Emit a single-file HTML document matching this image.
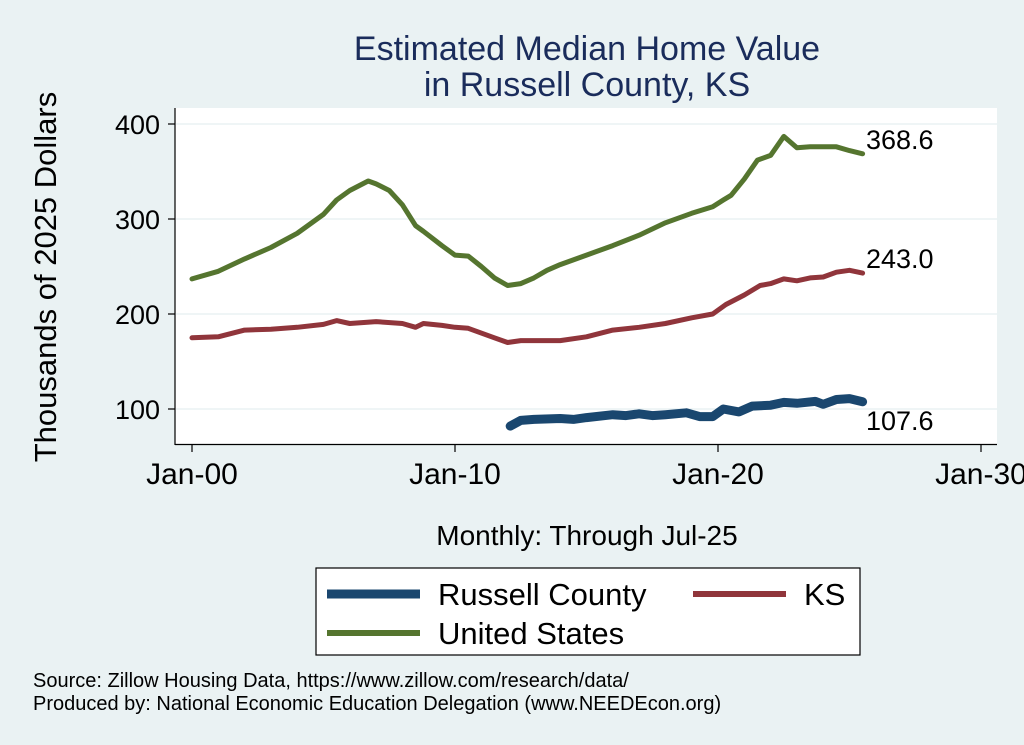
<!DOCTYPE html>
<html><head><meta charset="utf-8"><style>
body{margin:0;background:#eaf2f3;}
svg{display:block;font-family:"Liberation Sans",sans-serif;}
</style></head><body>
<svg width="1024" height="745">
<rect width="1024" height="745" fill="#eaf2f3"/>
<text x="587" y="60" font-size="34" fill="#1a2c5b" text-anchor="middle">Estimated Median Home Value</text>
<text x="587" y="96" font-size="34" fill="#1a2c5b" text-anchor="middle">in Russell County, KS</text>
<rect x="175" y="108" width="822" height="337" fill="#fff"/>
<g id="grid"></g>
<g id="series"></g>
<g id="axes"></g>
<text transform="translate(56,277) rotate(-90)" font-size="31" text-anchor="middle" fill="#000">Thousands of 2025 Dollars</text>
<text x="587" y="545" font-size="28" text-anchor="middle" fill="#000">Monthly: Through Jul-25</text>
<g>
<rect x="316" y="568" width="544" height="87" fill="#fff" stroke="#000" stroke-width="1.2"/>
<line x1="327" y1="594" x2="420" y2="594" stroke="#1a476f" stroke-width="9"/>
<text x="438" y="605" font-size="31">Russell County</text>
<line x1="693" y1="594" x2="786" y2="594" stroke="#90353b" stroke-width="6"/>
<text x="804" y="605" font-size="31">KS</text>
<line x1="327" y1="633" x2="420" y2="633" stroke="#55752f" stroke-width="6"/>
<text x="438" y="644" font-size="31">United States</text>
</g>
<text x="33" y="687" font-size="20">Source: Zillow Housing Data, https://www.zillow.com/research/data/</text>
<text x="33" y="710" font-size="20">Produced by: National Economic Education Delegation (www.NEEDEcon.org)</text>
</svg>
<script>
const yTicks=[100,200,300,400];
const xTicks=[2000,2010,2020,2030];
const xTickLabels=["Jan-00","Jan-10","Jan-20","Jan-30"];
const usT=[2000,2001,2002,2003,2004,2005,2005.5,2006,2006.7,2007,2007.5,2008,2008.5,2008.8,2009.5,2010,2010.5,2011,2011.5,2012,2012.5,2013,2013.5,2014,2015,2016,2017,2018,2019,2019.8,2020.2,2020.5,2021,2021.5,2022,2022.5,2023,2023.5,2024,2024.5,2025,2025.5];
const usV=[237,245,258,270,285,305,320,330,340,337,330,315,293,287,272,262,261,250,238,230,232,238,246,252,262,272,283,296,306,313,320,325,342,362,367,387,375,376,376,376,372,368.6];
const ksT=[2000,2001,2002,2003,2004,2005,2005.5,2006,2007,2008,2008.5,2008.8,2009.5,2010,2010.5,2011.5,2012,2012.5,2013,2014,2015,2016,2017,2018,2019,2019.8,2020.3,2021,2021.6,2022,2022.5,2023,2023.5,2024,2024.5,2025,2025.5];
const ksV=[175,176,183,184,186,189,193,190,192,190,186,190,188,186,185,175,170,172,172,172,176,183,186,190,196,200,210,220,230,232,237,235,238,239,244,246,243];
const ruT=[2012.1,2012.5,2013,2014,2014.5,2015,2016,2016.5,2017,2017.5,2018,2018.8,2019.3,2019.8,2020.2,2020.8,2021.3,2022,2022.5,2023,2023.7,2024,2024.5,2025,2025.5];
const ruV=[82,88,89,90,89,91,94,93,95,93,94,96,92,92,100,97,103,104,107,106,108,105,110,111,107.6];
const endLabels=["368.6","243.0","107.6"];
const NS="http://www.w3.org/2000/svg";
const X=t=>192+(t-2000)*26.3;
const Y=v=>409-(v-100)*0.95;
function mk(tag,attrs,parent){const e=document.createElementNS(NS,tag);for(const k in attrs)e.setAttribute(k,attrs[k]);document.getElementById(parent).appendChild(e);return e;}
yTicks.forEach(v=>{
 const g=mk('line',{x1:176,x2:997,y1:Y(v),y2:Y(v),stroke:'#eaf2f3','stroke-width':1.5},'grid');
 
 
 const t=mk('line',{x1:168,x2:175,y1:Y(v),y2:Y(v),stroke:'#000','stroke-width':1.2},'axes');
 
 
 const l=mk('text',{x:160,y:Y(v)+10,'font-size':27,'text-anchor':'end'},'axes');
 l.textContent=v;
 
 
});
mk('line',{x1:175,x2:175,y1:108,y2:445,stroke:'#000','stroke-width':1.2},'axes');
mk('line',{x1:175,x2:997,y1:444.5,y2:444.5,stroke:'#000','stroke-width':1.2},'axes');
xTicks.forEach((t,i)=>{
 const k=mk('line',{x1:X(t),x2:X(t),y1:445,y2:452,stroke:'#000','stroke-width':1.2},'axes');
 
 
 const l=mk('text',{x:X(t),y:484,'font-size':30,'text-anchor':'middle'},'axes');
 l.textContent=xTickLabels[i];
 
 
});
function line(T,V,color,w,name){
 const d=T.map((t,i)=>(i?'L':'M')+X(t).toFixed(1)+','+Y(V[i]).toFixed(1)).join('');
 const p=mk('path',{d:d,fill:'none',stroke:color,'stroke-width':w,'stroke-linejoin':'round','stroke-linecap':'round'},'series');
 
 
}
line(usT,usV,'#55752f',5,'line-united-states');
line(ksT,ksV,'#90353b',5,'line-ks');
line(ruT,ruV,'#1a476f',9,'line-russell-county');
const ends=[[usT,usV,-5],[ksT,ksV,-5],[ruT,ruV,28]];
ends.forEach((e,i)=>{
 const T=e[0],V=e[1];
 const l=mk('text',{x:866,y:Y(V[V.length-1])+e[2],'font-size':27},'series');
 l.textContent=endLabels[i];
 
 
});
</script>
</body></html>
